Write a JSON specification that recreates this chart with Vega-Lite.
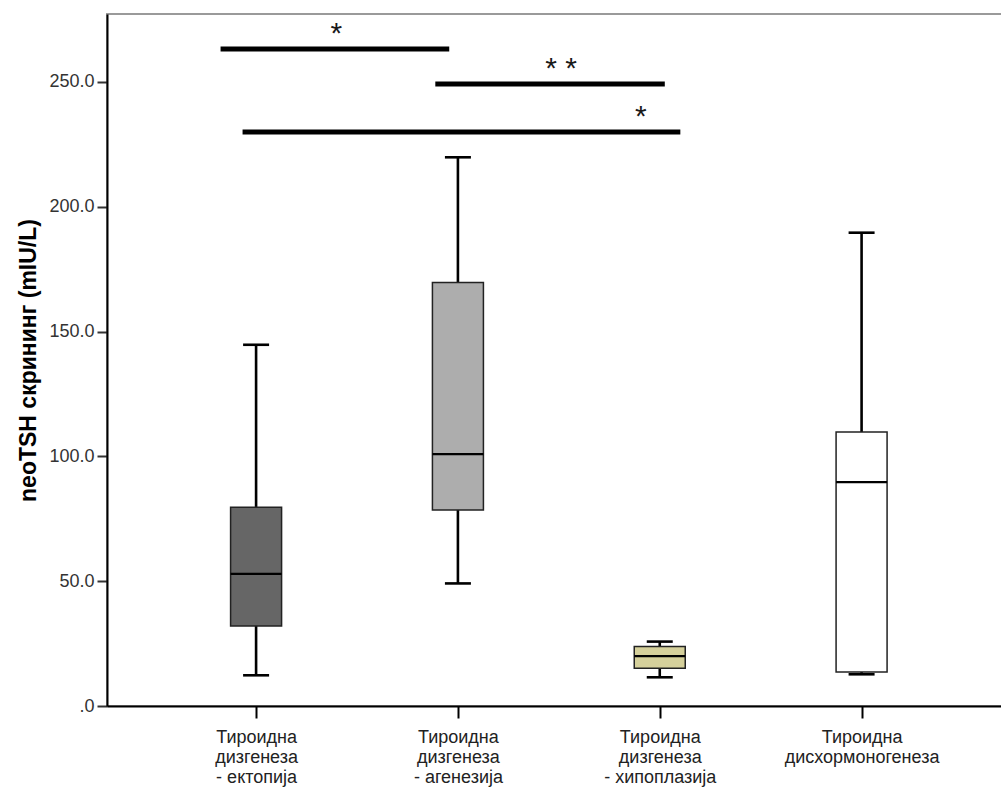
{
  "$schema": "https://vega.github.io/schema/vega-lite/v6.json",
  "width": 900,
  "height": 692,
  "autosize": {"type": "none"},
  "padding": {"left": 107, "top": 14, "right": 0, "bottom": 89},
  "background": "white",
  "config": {
    "font": "Liberation Sans",
    "view": {"stroke": "#9a9a9a", "strokeWidth": 2}
  },
  "datasets": {
    "boxes": [
      {"idx": 1, "group": "ектопија", "min": 12.3, "q1": 32.0, "median": 52.9, "q3": 79.6, "max": 144.7},
      {"idx": 2, "group": "агенезија", "min": 49.1, "q1": 78.5, "median": 100.9, "q3": 169.6, "max": 219.8},
      {"idx": 3, "group": "хипоплазија", "min": 11.5, "q1": 15.1, "median": 20.0, "q3": 23.8, "max": 25.8},
      {"idx": 4, "group": "дисхормоногенеза", "min": 12.7, "q1": 13.6, "median": 89.7, "q3": 109.8, "max": 189.6}
    ],
    "significance": [
      {"from": 0.824, "to": 1.957, "level": 263.2, "stars": "*", "starAt": 1.398},
      {"from": 1.888, "to": 3.025, "level": 249.2, "stars": "* *", "starAt": 2.511},
      {"from": 0.933, "to": 3.102, "level": 229.9, "stars": "*", "starAt": 2.906}
    ]
  },
  "layer": [
    {
      "data": {"name": "boxes"},
      "mark": {"type": "rule", "color": "black", "strokeWidth": 2.6},
      "encoding": {
        "x": {
          "field": "idx",
          "type": "quantitative",
          "title": null,
          "scale": {"domain": [0.2861, 4.6957], "nice": false, "zero": false},
          "axis": {
            "values": [1, 2, 3, 4],
            "title": null,
            "grid": false,
            "domainColor": "black",
            "domainWidth": 2,
            "tickColor": "black",
            "tickWidth": 2,
            "tickSize": 12,
            "labelPadding": 10,
            "labelFontSize": 18,
            "labelColor": "#222",
            "labelLineHeight": 20,
            "labelOverlap": false,
            "labelBound": false,
            "labelFlush": false,
            "labelBaseline": "top",
            "labelExpr": "datum.value == 1 ? ['Тироидна', 'дизгенеза', '- ектопија'] : datum.value == 2 ? ['Тироидна', 'дизгенеза', '- агенезија'] : datum.value == 3 ? ['Тироидна', 'дизгенеза', '- хипоплазија'] : ['Тироидна', 'дисхормоногенеза']"
          }
        },
        "y": {
          "field": "min",
          "type": "quantitative",
          "title": "neoTSH скрининг (mIU/L)",
          "scale": {"domain": [0, 277.2], "nice": false},
          "axis": {
            "values": [0, 50, 100, 150, 200, 250],
            "title": "neoTSH скрининг (mIU/L)",
            "titleFontSize": 23,
            "titleFontWeight": "bold",
            "titleColor": "black",
            "titlePadding": 8,
            "grid": false,
            "domainColor": "black",
            "domainWidth": 2,
            "tickColor": "#333",
            "tickWidth": 2,
            "tickSize": 10,
            "labelPadding": 3,
            "labelFontSize": 18,
            "labelColor": "#333",
            "labelExpr": "datum.value == 0 ? '.0' : format(datum.value, '.1f')"
          }
        },
        "y2": {"field": "max"}
      }
    },
    {
      "data": {"name": "boxes"},
      "mark": {"type": "bar", "size": 51, "stroke": "#222", "strokeWidth": 1.5},
      "encoding": {
        "x": {"field": "idx", "type": "quantitative", "title": null},
        "y": {"field": "q1", "type": "quantitative", "title": "neoTSH скрининг (mIU/L)"},
        "y2": {"field": "q3"},
        "color": {
          "field": "group",
          "type": "nominal",
          "legend": null,
          "scale": {
            "domain": ["ектопија", "агенезија", "хипоплазија", "дисхормоногенеза"],
            "range": ["#666666", "#adadad", "#d5d09b", "#ffffff"]
          }
        }
      }
    },
    {
      "data": {"name": "boxes"},
      "mark": {"type": "tick", "orient": "horizontal", "size": 51, "thickness": 2.2, "color": "black", "opacity": 1},
      "encoding": {
        "x": {"field": "idx", "type": "quantitative", "title": null},
        "y": {"field": "median", "type": "quantitative", "title": "neoTSH скрининг (mIU/L)"}
      }
    },
    {
      "data": {"name": "boxes"},
      "mark": {"type": "tick", "orient": "horizontal", "size": 26, "thickness": 2.6, "color": "black", "opacity": 1},
      "encoding": {
        "x": {"field": "idx", "type": "quantitative", "title": null},
        "y": {"field": "min", "type": "quantitative", "title": "neoTSH скрининг (mIU/L)"}
      }
    },
    {
      "data": {"name": "boxes"},
      "mark": {"type": "tick", "orient": "horizontal", "size": 26, "thickness": 2.6, "color": "black", "opacity": 1},
      "encoding": {
        "x": {"field": "idx", "type": "quantitative", "title": null},
        "y": {"field": "max", "type": "quantitative", "title": "neoTSH скрининг (mIU/L)"}
      }
    },
    {
      "data": {"name": "significance"},
      "mark": {"type": "rule", "color": "black", "strokeWidth": 5, "strokeCap": "butt"},
      "encoding": {
        "x": {"field": "from", "type": "quantitative", "title": null},
        "x2": {"field": "to"},
        "y": {"field": "level", "type": "quantitative", "title": "neoTSH скрининг (mIU/L)"}
      }
    },
    {
      "data": {"name": "significance"},
      "mark": {"type": "text", "fontSize": 30, "color": "#1a1a1a", "baseline": "alphabetic", "align": "center", "dy": -6},
      "encoding": {
        "x": {"field": "starAt", "type": "quantitative", "title": null},
        "y": {"field": "level", "type": "quantitative", "title": "neoTSH скрининг (mIU/L)"},
        "text": {"field": "stars"}
      }
    }
  ]
}
